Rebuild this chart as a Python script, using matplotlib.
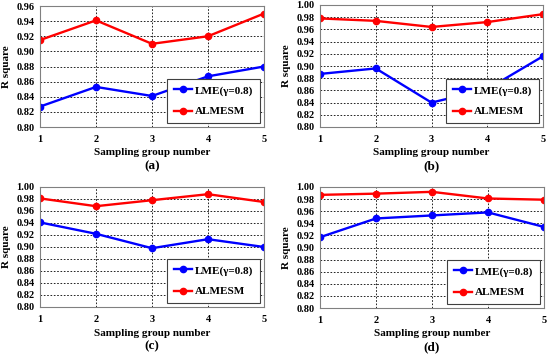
import matplotlib.pyplot as plt

groups = [1, 2, 3, 4, 5]

# R square per panel
lme_a = [0.827, 0.853, 0.841, 0.867, 0.880]
alm_a = [0.915, 0.941, 0.910, 0.920, 0.950]

lme_b = [0.887, 0.896, 0.840, 0.862, 0.916]
alm_b = [0.978, 0.974, 0.964, 0.972, 0.985]

lme_c = [0.941, 0.922, 0.898, 0.913, 0.900]
alm_c = [0.981, 0.968, 0.978, 0.988, 0.975]

lme_d = [0.917, 0.948, 0.953, 0.958, 0.934]
alm_d = [0.987, 0.989, 0.992, 0.981, 0.979]

panels = [
    ("(a)", lme_a, alm_a, 0.96),
    ("(b)", lme_b, alm_b, 1.00),
    ("(c)", lme_c, alm_c, 1.00),
    ("(d)", lme_d, alm_d, 1.00),
]

plt.rcParams["font.family"] = ["Liberation Serif", "DejaVu Serif"]
plt.rcParams["font.weight"] = "bold"

fig = plt.figure(figsize=(5.5, 3.56), dpi=100)
W, H = 550, 356
# axes boxes in pixels: left, top, right, bottom
boxes = [(40, 6, 264, 127), (320, 5, 543, 127),
         (40, 187, 264, 307), (320, 187, 544, 308)]

for (label, lme, alm, ytop), (l, t, r, b) in zip(panels, boxes):
    ax = fig.add_axes([l / W, 1 - b / H, (r - l) / W, (b - t) / H])
    ax.plot(groups, lme, color="blue", marker="o", markersize=4.5, lw=1.7,
            label="LME(\u03b3=0.8)")
    ax.plot(groups, alm, color="red", marker="o", markersize=4.5, lw=1.7,
            label="ALMESM")
    ax.set_xlim(1, 5)
    ax.set_ylim(0.80, ytop)
    ax.set_xticks(groups)
    yt = [0.80 + 0.02 * i for i in range(int(round((ytop - 0.80) / 0.02)) + 1)]
    ax.set_yticks(yt)
    ax.set_yticklabels([f"{v:.2f}" for v in yt])
    ax.grid(True, color="black", linestyle=(0, (2, 2)), linewidth=0.6)
    ax.tick_params(labelsize=7.5, length=0, pad=4)
    ax.tick_params(axis="x", pad=6)
    for s in ax.spines.values():
        s.set_color("#808080")
    ax.set_ylabel("R square", fontsize=8, fontweight="bold", labelpad=4)
    ax.set_xlabel("Sampling group number", fontsize=8, fontweight="bold",
                  labelpad=3)
    ax.annotate(label, xy=(0.5, 0), xycoords="axes fraction",
                xytext=(0, -28), textcoords="offset points",
                ha="center", va="center", fontsize=9.5, fontweight="bold")
    leg = ax.legend(loc="lower right", borderaxespad=0.35, fancybox=False,
                    fontsize=8, handlelength=1.6, handletextpad=0.3,
                    labelspacing=1.0, borderpad=0.6, framealpha=1)
    leg.get_frame().set_edgecolor("#404040")
    leg.get_frame().set_linewidth(0.8)

fig.savefig("out.png", dpi=100)
